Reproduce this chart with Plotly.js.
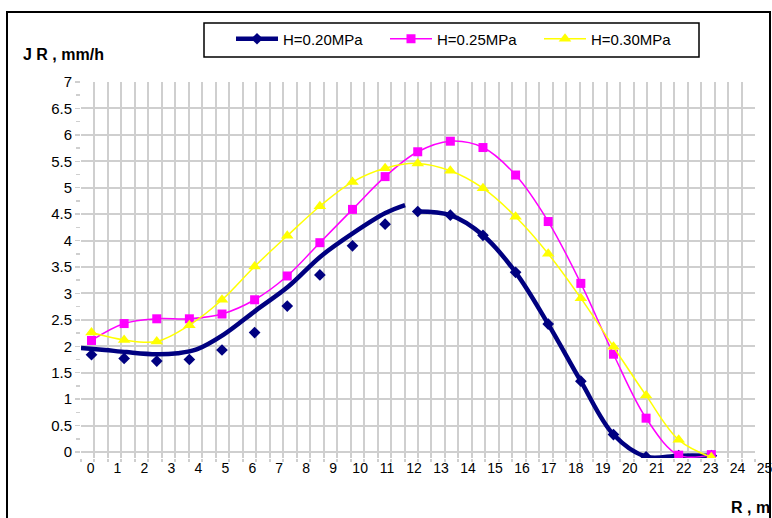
<!DOCTYPE html>
<html>
<head>
<meta charset="utf-8">
<script src="https://cdn.plot.ly/plotly-3.0.1.min.js"></script>
<style>html,body{margin:0;padding:0;background:#fff;}#chart{width:772px;height:518px;}</style>
</head>
<body>
<div id="chart"></div>
<script>
// ---- data ----
const seriesNames = ['H=0.20MPa', 'H=0.25MPa', 'H=0.30MPa'];
const rValues = [0, 1.21, 2.42, 3.63, 4.84, 6.05, 7.26, 8.47, 9.68, 10.89, 12.1, 13.31, 14.52, 15.73, 16.94, 18.15, 19.36, 20.57, 21.78, 22.99];
const jr020 = [1.84, 1.77, 1.72, 1.75, 1.93, 2.26, 2.76, 3.35, 3.90, 4.31, 4.55, 4.48, 4.10, 3.40, 2.42, 1.34, 0.33, -0.09, -0.07, -0.07];
const jr025 = [2.11, 2.43, 2.52, 2.52, 2.61, 2.88, 3.33, 3.96, 4.59, 5.21, 5.68, 5.88, 5.76, 5.24, 4.36, 3.19, 1.85, 0.64, -0.06, -0.05];
const jr030 = [2.26, 2.12, 2.09, 2.40, 2.88, 3.51, 4.09, 4.65, 5.11, 5.37, 5.46, 5.32, 4.99, 4.45, 3.75, 2.91, 1.99, 1.07, 0.23, -0.10];
// thick smoothed curve drawn over the first part of H=0.20MPa
const fit020X = [-0.39, 0.5, 1.3, 2.4, 3.2, 3.9, 4.9, 6.1, 7.3, 8.5, 9.7, 10.9, 11.63];
const fit020Y = [1.97, 1.93, 1.89, 1.85, 1.87, 1.94, 2.22, 2.68, 3.13, 3.70, 4.14, 4.52, 4.67];
const lineStart020 = 10; // index where the plotted line of H=0.20MPa begins
const xTickLabels = [0,1,2,3,4,5,6,7,8,9,10,11,12,13,14,15,16,17,18,19,20,21,22,23,24,25];
const yTickValues = [0,0.5,1,1.5,2,2.5,3,3.5,4,4.5,5,5.5,6,6.5,7];
const yTitle = 'J R , mm/h';
const xTitle = 'R , m';

// ---- geometry ----
const W = 772, H = 518;
const M = {l: 81, r: 4, t: 82, b: 60};
const PW = W - M.l - M.r, PH = H - M.t - M.b;
const px2x = p => (p - M.l) / PW;
const py2y = p => (H - M.b - p) / PH;

const FONT = 'Arial, "Liberation Sans", sans-serif';
const NAVY = '#000080', PINK = '#FF00FF', YELLOW = '#FFFF00';
const GRID = '#cfcfcf';

const traces = [
  {x: [], y: [], xaxis: 'x2', yaxis: 'y2', showlegend: false, hoverinfo: 'skip'},
  {x: fit020X, y: fit020Y, mode: 'lines', line: {color: NAVY, width: 4.5, shape: 'spline'}, showlegend: false, hoverinfo: 'skip'},
  {x: rValues.slice(0, lineStart020), y: jr020.slice(0, lineStart020), mode: 'markers',
   marker: {symbol: 'diamond', size: 9, color: NAVY}, showlegend: false},
  {x: rValues.slice(lineStart020), y: jr020.slice(lineStart020), mode: 'lines+markers', name: seriesNames[0],
   line: {color: NAVY, width: 4.5, shape: 'spline'}, marker: {symbol: 'diamond', size: 9, color: NAVY}},
  {x: rValues, y: jr025, mode: 'lines+markers', name: seriesNames[1],
   line: {color: PINK, width: 1.5, shape: 'spline'}, marker: {symbol: 'square', size: 9, color: PINK}},
  {x: rValues, y: jr030, mode: 'lines+markers', name: seriesNames[2],
   line: {color: YELLOW, width: 1.5, shape: 'spline'}, marker: {symbol: 'triangle-up', size: 11, color: YELLOW}}
];

const layout = {
  width: W, height: H,
  margin: M,
  paper_bgcolor: '#fff', plot_bgcolor: 'rgba(0,0,0,0)',
  font: {family: FONT, size: 15, color: '#000'},
  showlegend: true,
  legend: {
    orientation: 'h', x: px2x(231), y: py2y(39), xanchor: 'left', yanchor: 'middle',
    bgcolor: 'rgba(0,0,0,0)', borderwidth: 0,
    font: {family: FONT, size: 15, color: '#000'},
    entrywidth: 97, entrywidthmode: 'pixels', itemwidth: 42, traceorder: 'normal'
  },
  xaxis: {
    domain: [0, 674 / PW], range: [-0.39, 24.61], anchor: 'y',
    tickmode: 'linear', tick0: -0.39, dtick: 0.5, showticklabels: false,
    showgrid: true, gridcolor: GRID, gridwidth: 2, zeroline: false, showline: false,
    ticks: 'outside', ticklen: 3, tickcolor: GRID, tickwidth: 2
  },
  xaxis2: {
    domain: [0, 1], range: [-0.39, 25.09], anchor: 'y2',
    tickmode: 'array', tickvals: xTickLabels, ticktext: xTickLabels.map(String),
    showgrid: false, zeroline: false, showline: false, ticks: '', ticklabeloverflow: 'allow',
    ticklabelshift: -1,
    tickfont: {family: FONT, size: 14, color: '#000'}
  },
  yaxis: {
    domain: [0, 1], range: [-(H - M.b - 452) / (370 / 7), 7], anchor: 'x',
    tickmode: 'array', tickvals: yTickValues, ticktext: yTickValues.map(String),
    showgrid: true, gridcolor: GRID, gridwidth: 2, zeroline: false, showline: false,
    ticks: 'outside', ticklen: 5, tickcolor: GRID, tickwidth: 1.5,
    minor: {tickmode: 'linear', tick0: 0.25, dtick: 0.5, ticks: 'outside', ticklen: 4, tickcolor: GRID, tickwidth: 1.5, showgrid: false},
    tickfont: {family: FONT, size: 15, color: '#000'}
  },
  yaxis2: {domain: [0, 1], range: [0, 1], anchor: 'x2', visible: false},
  annotations: [
    {text: '<b>' + yTitle + '</b>', xref: 'paper', yref: 'paper', x: px2x(21), y: py2y(55),
     xanchor: 'left', yanchor: 'middle', showarrow: false, font: {family: FONT, size: 16, color: '#000'}},
    {text: '<b>' + xTitle + '</b>', xref: 'paper', yref: 'paper', x: px2x(729), y: py2y(508),
     xanchor: 'left', yanchor: 'middle', showarrow: false, font: {family: FONT, size: 16, color: '#000'}}
  ],
  shapes: [
    {type: 'rect', xref: 'paper', yref: 'paper', x0: px2x(204), x1: px2x(699), y0: py2y(57), y1: py2y(23),
     line: {color: '#000', width: 1.5}, fillcolor: 'rgba(0,0,0,0)'},
    {type: 'rect', xref: 'paper', yref: 'paper', x0: px2x(7), x1: px2x(770), y0: py2y(524), y1: py2y(12),
     line: {color: '#000', width: 2}, fillcolor: 'rgba(0,0,0,0)'}
  ]
};

Plotly.newPlot('chart', traces, layout, {displayModeBar: false, staticPlot: true});
</script>
</body>
</html>
